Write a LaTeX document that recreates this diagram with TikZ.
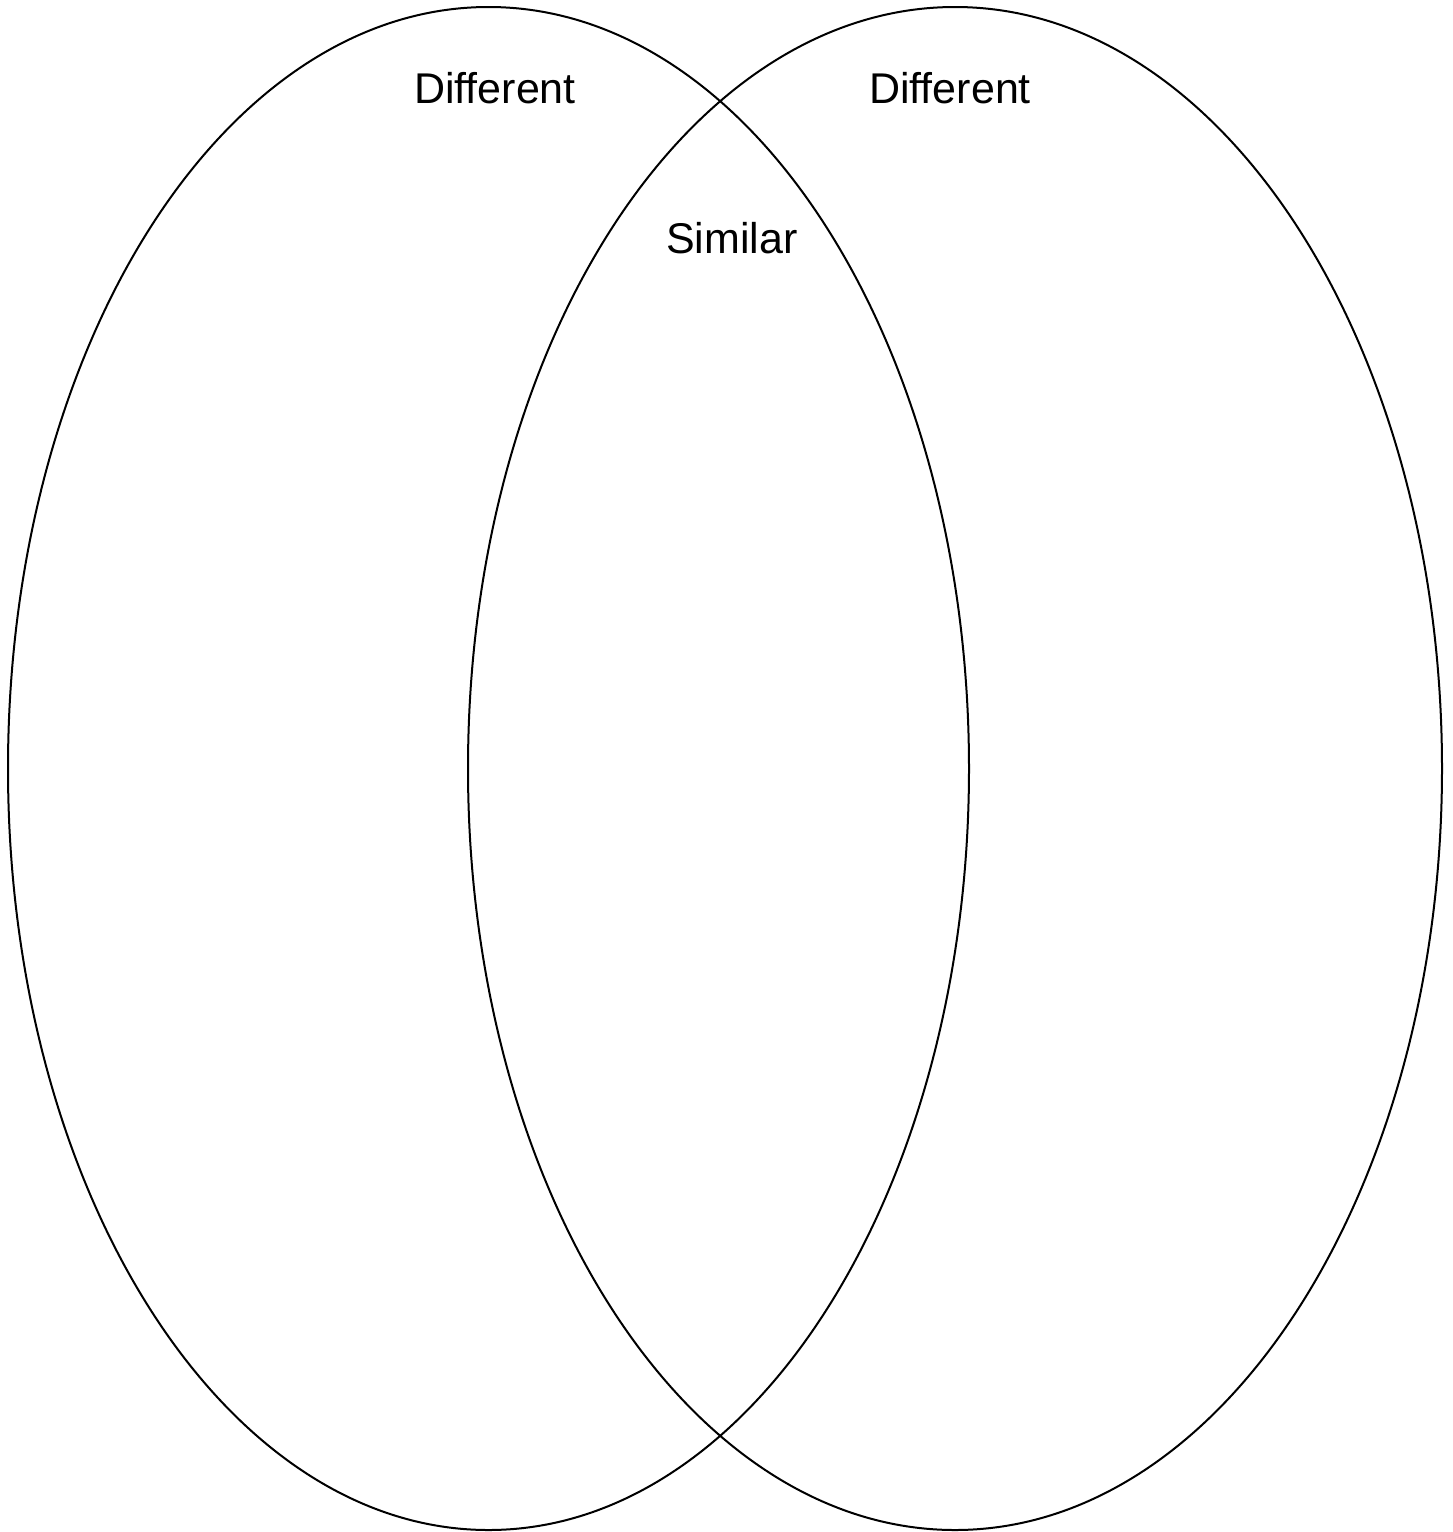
\documentclass[tikz,border=0pt]{standalone}
\usepackage{fontspec}
\setmainfont[Ligatures=CommonOff]{Liberation Sans}
\begin{document}
\begin{tikzpicture}[x=1pt,y=1pt,
  vennset/.style={draw=black,line width=2pt},
  lbl/.style={font=\fontsize{43}{51}\selectfont,inner sep=0pt,anchor=center}]
\useasboundingbox[fill=white] (0,0) rectangle (1452,-1532);
\draw[vennset] (488.5,-768.5) ellipse [x radius=480.5, y radius=761.5];
\draw[vennset] (955,-768.5) ellipse [x radius=487, y radius=761.5];
\node[lbl] (difl) at (495,-88) {Different};
\node[lbl] (difr) at (950,-88) {Different};
\node[lbl] (sim) at (732,-238) {Similar};
\end{tikzpicture}
\end{document}
